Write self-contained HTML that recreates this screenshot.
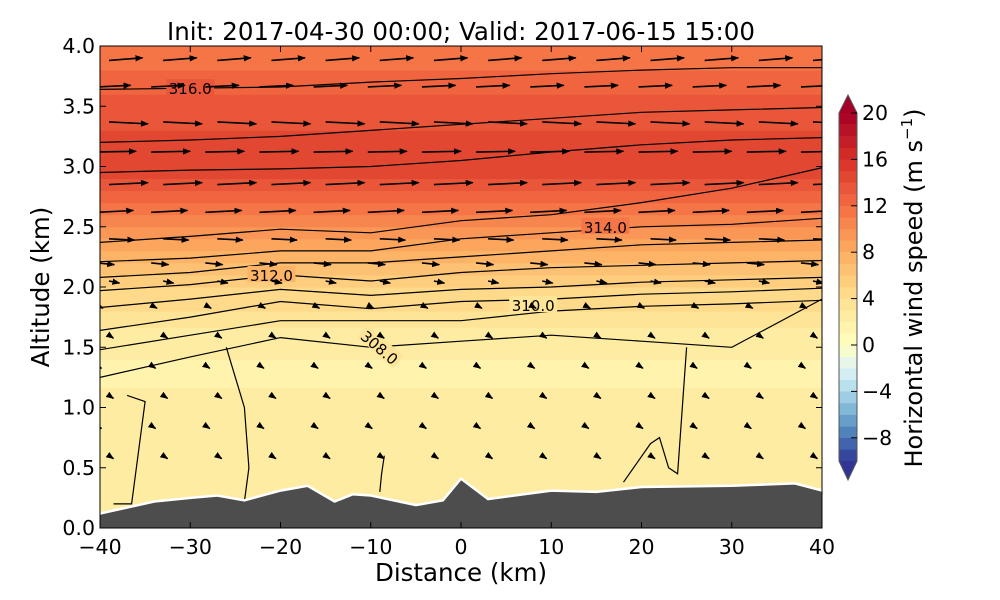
<!DOCTYPE html>
<html><head><meta charset="utf-8"><style>
html,body{margin:0;padding:0;background:#fff;width:1000px;height:600px;overflow:hidden}
svg{display:block;font-family:"DejaVu Sans","Liberation Sans",sans-serif}
</style></head><body>
<svg id="chart" width="1000" height="600" viewBox="0 0 1000 600" xmlns="http://www.w3.org/2000/svg">
<defs><clipPath id="pc"><rect x="100" y="46" width="722" height="482"/></clipPath>
<marker id="ah" viewBox="0 0 10 10" refX="9" refY="5" markerWidth="5" markerHeight="5" orient="auto"><path d="M0,1 L10,5 L0,9 z" fill="#000"/></marker></defs>
<text x="461" y="40" font-size="24.5" text-anchor="middle">Init: 2017-04-30 00:00; Valid: 2017-06-15 15:00</text>
<g id="plot" clip-path="url(#pc)"></g>
<g id="axes"></g>
<g id="cbar"></g>
<text x="461" y="581" font-size="24.5" text-anchor="middle">Distance (km)</text>
<text transform="translate(49,287) rotate(-90)" font-size="24.5" text-anchor="middle">Altitude (km)</text>
<text transform="translate(922,288) rotate(-90)" font-size="24" text-anchor="middle">Horizontal wind speed (m s<tspan font-size="15" dy="-10">−1</tspan><tspan dy="10">)</tspan></text>
</svg>
<script>
// data
const xTicks=[-40,-30,-20,-10,0,10,20,30,40];
const yTicks=[0.0,0.5,1.0,1.5,2.0,2.5,3.0,3.5,4.0];
const cbTicks=[20,16,12,8,4,0,-4,-8];
const terrainX=[-40,-37,-34,-30,-27,-24,-20,-17,-14,-12,-10,-5,-2,0,3,10,15,20,30,37,40];
const terrainZ=[0.12,0.17,0.22,0.25,0.27,0.23,0.31,0.35,0.22,0.28,0.27,0.19,0.23,0.41,0.24,0.31,0.30,0.34,0.35,0.37,0.31];
const bgZ=[0,0.9,1.3,1.6,1.8,2.0,2.2,2.4,2.6,2.8,3.0,3.3,3.6,3.8,4.0];
const bgSpeed=[3,2.5,1.8,2.5,4,5,7,9,11,13,15,14,13,12,11];
const isoX=[-40,-30,-20,-10,0,10,20,30,40];
const iso316=[3.64,3.65,3.66,3.7,3.73,3.77,3.80,3.82,3.82];
const iso315b=[3.2,3.22,3.25,3.3,3.35,3.4,3.45,3.47,3.49];
const iso315=[2.95,2.97,2.98,3.0,3.05,3.12,3.18,3.22,3.24];
const iso314=[2.37,2.42,2.48,2.45,2.55,2.6,2.7,2.82,2.99];
const iso313b=[2.21,2.24,2.3,2.3,2.4,2.45,2.5,2.52,2.57];
const iso313=[2.08,2.12,2.2,2.2,2.25,2.3,2.35,2.37,2.39];
const iso312=[1.97,2.02,2.1,2.05,2.12,2.16,2.18,2.2,2.22];
const iso311=[1.83,1.9,1.98,1.93,1.98,2.0,2.04,2.06,2.08];
const iso310b=[1.64,1.75,1.88,1.82,1.88,1.9,1.94,1.96,1.99];
const iso310=[1.48,1.6,1.72,1.72,1.72,1.8,1.84,1.86,1.89];
const iso309=[1.25,1.42,1.58,1.5,1.55,1.6,1.55,1.5,1.9];
const isoLines=[iso316,iso315b,iso315,iso314,iso313b,iso313,iso312,iso311,iso310b,iso310,iso309];
const loopAX=[-37,-35,-36.5,-38.5];const loopAZ=[1.1,1.05,0.2,0.2];
const loopBX=[-26,-24,-23.5,-24];const loopBZ=[1.5,1.0,0.5,0.22];
const loopCX=[-8.5,-8.8,-9];const loopCZ=[0.6,0.45,0.3];
const loopDX=[18,21,22,23,24,25];const loopDZ=[0.38,0.7,0.75,0.5,0.45,1.5];
const arrZ=[3.88,3.66,3.37,3.12,2.85,2.62,2.4,2.2,2.05,1.85,1.6,1.35,1.1,0.85,0.6];
const arrU=[11,11,13,13,13,12,8,5,2.5,1,0.5,0.5,0.5,0.5,0.5];
const arrTilt=[0.08,0.05,-0.05,0.02,0.05,0.05,-0.05,-0.1,-0.2,-0.5,-0.6,-0.6,-0.6,-0.6,-0.6];
const arrX=[-39,-33,-27,-21,-15,-9,-3,3,9,15,21,27,33,39];

const NS='http://www.w3.org/2000/svg';
const X=v=>100+(v+40)*722/80, Y=v=>528-v*120.5;
const plot=document.getElementById('plot'),axes=document.getElementById('axes'),cb=document.getElementById('cbar');
function mk(p,t,a){const e=document.createElementNS(NS,t);for(const k in a)e.setAttribute(k,a[k]);p.appendChild(e);return e;}
const cmap=[[49,54,149],[69,117,180],[116,173,209],[171,217,233],[224,243,248],[255,255,191],[254,224,144],[253,174,97],[244,109,67],[215,48,39],[165,0,38]];
function col(v){let t=v<0?0.5*(v+10)/10:0.5+0.5*v/20;t=Math.max(0,Math.min(1,t));const f=t*10,i=Math.min(9,Math.floor(f)),r=f-i;const a=cmap[i],b=cmap[i+1];return `rgb(${a.map((c,k)=>Math.round(c+(b[k]-c)*r)).join(',')})`;}
const qc=v=>col(Math.floor(v)+0.5);
for(let i=0;i<bgZ.length-1;i++){
  const steps=6;
  for(let s=0;s<steps;s++){
    const z0=bgZ[i]+(bgZ[i+1]-bgZ[i])*s/steps,z1=bgZ[i]+(bgZ[i+1]-bgZ[i])*(s+1)/steps;
    const sp=bgSpeed[i]+(bgSpeed[i+1]-bgSpeed[i])*(s+0.5)/steps;
    const r=mk(plot,'rect',{x:100,y:Y(z1)-0.5,width:722,height:Y(z0)-Y(z1)+1,fill:qc(sp)});
    
    
  }
}
const lp=(xs,zs)=>xs.map((x,i)=>`${X(x).toFixed(1)},${Y(zs[i]).toFixed(1)}`).join(' ');
isoLines.forEach(z=>{const p=mk(plot,'polyline',{points:lp(isoX,z),fill:'none',stroke:'#000','stroke-width':1.2});
 });
[[loopAX,loopAZ],[loopBX,loopBZ],[loopCX,loopCZ],[loopDX,loopDZ]].forEach(([a,b])=>{const p=mk(plot,'polyline',{points:lp(a,b),fill:'none',stroke:'#000','stroke-width':1.2});
 });
[['316.0',-30,3.65,0],['314.0',16,2.5,0],['312.0',-21,2.1,0],['310.0',8,1.85,0],['308.0',-9,1.5,40]].forEach(([t,x,z,r])=>{
 const bg=mk(plot,'rect',{x:X(x)-24,y:Y(z)-9,width:48,height:16,fill:qc(z>3?13:z>2.3?11:z>2?7:3),transform:`rotate(${r},${X(x)},${Y(z)})`});
 
 const e=mk(plot,'text',{x:X(x),y:Y(z)+6,'font-size':15,'text-anchor':'middle',transform:`rotate(${r},${X(x)},${Y(z)})`});e.textContent=t;
 });
arrZ.forEach((z,i)=>arrX.forEach(x=>{
 const L=arrU[i]*2.7+4,ang=arrTilt[i];const x0=X(x)+(i%2?-12:0),y0=Y(z);
 const a=mk(plot,'line',{x1:x0,y1:y0,x2:x0+L*Math.cos(ang),y2:y0-L*Math.sin(ang),stroke:'#000','stroke-width':1.6,'marker-end':'url(#ah)'});
 }));
const tp=`100,528 `+lp(terrainX,terrainZ)+` 822,528`;
const ter=mk(plot,'polygon',{points:tp,fill:'#4d4d4d'});

const tl=mk(plot,'polyline',{points:lp(terrainX,terrainZ),fill:'none',stroke:'#fff','stroke-width':2.5});

const fr=mk(axes,'rect',{x:100,y:46,width:722,height:482,fill:'none',stroke:'#000','stroke-width':1});

xTicks.forEach(v=>{const x=X(v);mk(axes,'line',{x1:x,y1:528,x2:x,y2:522,stroke:'#000'});mk(axes,'line',{x1:x,y1:46,x2:x,y2:52,stroke:'#000'});
 const t=mk(axes,'text',{x:x,y:554,'font-size':20.5,'text-anchor':'middle'});t.textContent=v<0?'−'+(-v):v;
 });
yTicks.forEach(v=>{const y=Y(v);mk(axes,'line',{x1:100,y1:y,x2:106,y2:y,stroke:'#000'});mk(axes,'line',{x1:822,y1:y,x2:816,y2:y,stroke:'#000'});
 const t=mk(axes,'text',{x:95,y:y+7,'font-size':20.5,'text-anchor':'end'});t.textContent=v.toFixed(1);
 });
const CY=v=>113+(20-v)*11.6;
for(let v=-10;v<20;v++){const r=mk(cb,'rect',{x:839,y:CY(v+1),width:18,height:11.8,fill:col(v+0.5)});
 }
const tu=mk(cb,'polygon',{points:`839,${CY(20)} 848,95 857,${CY(20)}`,fill:col(21)});
const td=mk(cb,'polygon',{points:`839,${CY(-10)} 848,480 857,${CY(-10)}`,fill:col(-11)});
mk(cb,'polygon',{points:`839,${CY(20)} 848,95 857,${CY(20)} 857,${CY(-10)} 848,480 839,${CY(-10)}`,fill:'none',stroke:'#555','stroke-width':1});
cbTicks.forEach(v=>{const y=CY(v);mk(cb,'line',{x1:851,y1:y,x2:857,y2:y,stroke:'#000'});
 const t=mk(cb,'text',{x:862,y:y+7,'font-size':20.5});t.textContent=v<0?'−'+(-v):v;
 });
</script>
</body></html>
